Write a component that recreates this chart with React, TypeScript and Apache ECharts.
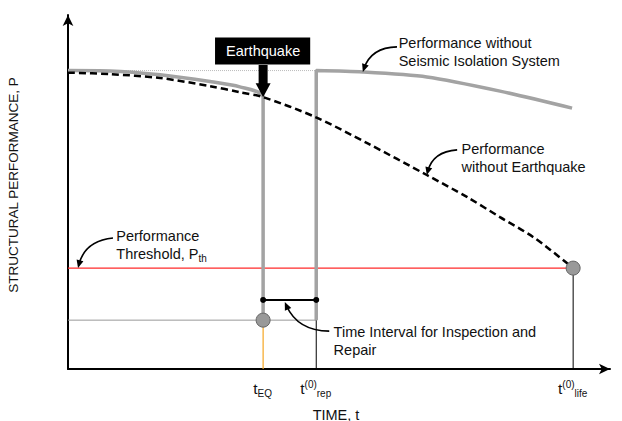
import React, { useEffect, useRef } from "react";
import * as echarts from "echarts";

const FONT = "'Liberation Sans', Arial, Helvetica, sans-serif";

// Key times and performance levels (time 0..100, performance 0..100)
const tEQ = 36.0;
const tRep = 45.8;
const tLife = 93.2;
const P0 = 84.3;
const Pth = 28.5;
const Pres = 13.8;
const Pint = 19.5;

// Performance without earthquake (dashed)
const noEqT = [0, 7.75, 17.0, 26.2, 31.7, 36.0, 45.6, 55.2, 66.2, 73.6, 79.7, 85.8, 92.1, 93.2];
const noEqP = [83.7, 83.3, 82.2, 79.9, 78.2, 76.8, 71.2, 63.8, 54.8, 48.6, 42.9, 37.3, 29.9, 28.5];

// Performance before the earthquake (gray)
const preEqT = [0, 7.75, 17.0, 26.2, 31.7, 36.0];
const preEqP = [84.3, 84.2, 83.1, 81.2, 79.7, 76.8];

// Performance after repair (gray)
const postRepT = [45.8, 54.4, 66.2, 79.7, 93.0];
const postRepP = [84.3, 83.9, 82.5, 78.5, 73.7];

// Tick labels on the time axis
const tickTimes = [tEQ, tRep, tLife];
const tickLabels = ["{t|t}{sub|EQ}", "{t|t}{sup|(0)}{sub|rep}", "{t|t}{sup|(0)}{sub|life}"];

// Annotation texts and anchor points
const noteTexts = [
  "Performance without\nSeismic Isolation System",
  "Performance\nwithout Earthquake",
  "Performance\nThreshold, P{sub|th}",
  "Time Interval for Inspection and\nRepair",
];
const noteT = [61.1, 72.7, 9.0, 49.1];
const noteP = [89.5, 59.6, 35.0, 7.9];

// Annotation arrows: start, end, curveness
const arrowStartT = [60.7, 71.8, 8.3, 48.2];
const arrowStartP = [91.0, 61.9, 37.0, 10.7];
const arrowEndT = [54.4, 66.2, 1.85, 40.0];
const arrowEndP = [83.9, 54.8, 28.5, 18.9];
const arrowCurv = [0.35, 0.36, 0.35, -0.32];

// Earthquake box and arrow
const eqBoxP = 89.7;
const eqArrowBaseP = 85.9;
const eqArrowTipP = 76.8;

const zip = (ts: number[], ps: number[]) => ts.map((t, i) => [t, ps[i]]);

const lineSeries = (data: number[][], lineStyle: any, z: number, extra: any = {}) => ({
  type: "line",
  data,
  symbol: "none",
  showSymbol: false,
  silent: true,
  clip: false,
  lineStyle,
  z,
  ...extra,
});

const GRAY = "#a3a3a3";
const INVISIBLE = { color: "rgba(0,0,0,0)", opacity: 1 };

function buildOption() {
  const arrows = arrowStartT.map((t, i) => [t, arrowStartP[i], arrowEndT[i], arrowEndP[i], arrowCurv[i]]);
  return {
    animation: false,
    grid: { left: 68, top: 15, right: 12, bottom: 52, outerBoundsMode: "none", containLabel: false },
    xAxis: {
      type: "value",
      min: 0,
      max: 100,
      name: "TIME, t",
      nameLocation: "middle",
      nameGap: 38,
      nameTextStyle: { fontFamily: FONT, fontSize: 14.5, color: "#111", padding: [0, 6, 0, 0] },
      axisLine: {
        show: true,
        symbol: ["none", "arrow"],
        symbolSize: [8, 11],
        lineStyle: { color: "#000", width: 2 },
      },
      axisTick: { show: false },
      axisLabel: { show: false },
      splitLine: { show: false },
    },
    yAxis: {
      type: "value",
      min: 0,
      max: 100,
      name: "STRUCTURAL PERFORMANCE, P",
      nameLocation: "middle",
      nameGap: 48,
      nameTextStyle: { fontFamily: FONT, fontSize: 13.5, color: "#111", padding: [0, 0, 0, 14] },
      axisLine: {
        show: true,
        symbol: ["none", "arrow"],
        symbolSize: [8, 11],
        lineStyle: { color: "#000", width: 2 },
      },
      axisTick: { show: false },
      axisLabel: { show: false },
      splitLine: { show: false },
    },
    series: [
      // top reference (dotted)
      lineSeries([[0, P0], [tRep, P0]], { color: "#bbbbbb", width: 1, type: [1, 1] }, 1),
      // residual reference line
      lineSeries([[0, Pres], [tRep, Pres]], { color: "#999999", width: 1 }, 1),
      // orange drop at tEQ
      lineSeries([[tEQ, 0], [tEQ, Pres]], { color: "#f5a623", width: 1.2 }, 1),
      // black drops at tRep and tLife
      lineSeries([[tRep, 0], [tRep, Pres]], { color: "#000", width: 1 }, 1),
      lineSeries([[tLife, 0], [tLife, Pth]], { color: "#000", width: 1 }, 1),
      // threshold
      lineSeries([[0, Pth], [tLife, Pth]], { color: "#ff2a2a", width: 1.2 }, 2),
      // with earthquake: pre-EQ and drop
      lineSeries([...zip(preEqT, preEqP), [tEQ, Pres]], { color: GRAY, width: 3.5, cap: "butt", join: "miter" }, 4, { smooth: 0.25 }),
      // after repair
      lineSeries([[tRep, Pres], ...zip(postRepT, postRepP)], { color: GRAY, width: 3.5, cap: "butt" }, 4, { smooth: 0.25 }),
      // without earthquake (dashed)
      lineSeries(zip(noEqT, noEqP), { color: "#000", width: 2.5, type: [7, 4] }, 5, { smooth: 0.3 }),
      // inspection & repair interval
      {
        type: "line",
        data: [[tEQ, Pint], [tRep, Pint]],
        symbol: "circle",
        symbolSize: 6,
        showSymbol: true,
        silent: true,
        clip: false,
        itemStyle: { color: "#000", opacity: 1 },
        lineStyle: { color: "#000", width: 2 },
        z: 6,
      },
      // circles
      {
        type: "scatter",
        data: [[tEQ, Pres], [tLife, Pth]],
        symbol: "circle",
        symbolSize: 14,
        silent: true,
        clip: false,
        itemStyle: { color: "#999999", borderColor: "#666666", borderWidth: 1, opacity: 1 },
        z: 7,
      },
      // annotation arrows
      {
        type: "custom",
        data: arrows,
        encode: { x: [0, 2], y: [1, 3] },
        silent: true,
        clip: false,
        z: 8,
        renderItem: (_params: any, api: any) => {
          const p0 = api.coord([api.value(0), api.value(1)]);
          const p1 = api.coord([api.value(2), api.value(3)]);
          const c = api.value(4);
          const dx = p1[0] - p0[0];
          const dy = p1[1] - p0[1];
          const len = Math.hypot(dx, dy);
          const nx = -dy / len;
          const ny = dx / len;
          const cp = [(p0[0] + p1[0]) / 2 + nx * c * len, (p0[1] + p1[1]) / 2 + ny * c * len];
          let tx = p1[0] - cp[0];
          let ty = p1[1] - cp[1];
          const tl = Math.hypot(tx, ty);
          tx /= tl;
          ty /= tl;
          const hl = 8;
          const hw = 3.5;
          const bx = p1[0] - tx * hl;
          const by = p1[1] - ty * hl;
          const mx = p1[0] - tx * hl * 0.5;
          const my = p1[1] - ty * hl * 0.5;
          return {
            type: "group",
            children: [
              {
                type: "bezierCurve",
                shape: { x1: p0[0], y1: p0[1], x2: mx, y2: my, cpx1: cp[0], cpy1: cp[1] },
                style: { stroke: "#000", lineWidth: 1.6, fill: null },
              },
              {
                type: "polygon",
                shape: {
                  points: [
                    [p1[0], p1[1]],
                    [bx - ty * hw, by + tx * hw],
                    [bx + ty * hw, by - tx * hw],
                  ],
                },
                style: { fill: "#000" },
              },
            ],
          };
        },
      },
      // earthquake arrow
      {
        type: "custom",
        data: [[tEQ, eqArrowBaseP, eqArrowTipP]],
        encode: { x: 0, y: [1, 2] },
        silent: true,
        clip: false,
        z: 8,
        renderItem: (_params: any, api: any) => {
          const b = api.coord([api.value(0), api.value(1)]);
          const tp = api.coord([api.value(0), api.value(2)]);
          const x = b[0];
          const sw = 4.5;
          const hw = 7.5;
          const hl = 14;
          const hy = tp[1] - hl;
          return {
            type: "polygon",
            shape: {
              points: [
                [x - sw, b[1]],
                [x + sw, b[1]],
                [x + sw, hy],
                [x + hw, hy],
                [x, tp[1]],
                [x - hw, hy],
                [x - sw, hy],
              ],
            },
            style: { fill: "#000" },
          };
        },
      },
      // earthquake box
      {
        type: "scatter",
        data: [[tEQ, eqBoxP]],
        symbolSize: 1,
        silent: true,
        clip: false,
        itemStyle: INVISIBLE,
        z: 9,
        label: {
          show: true,
          position: [0, 0],
          align: "center",
          verticalAlign: "middle",
          formatter: "Earthquake",
          color: "#fff",
          fontFamily: FONT,
          fontSize: 14.5,
          lineHeight: 15,
          backgroundColor: "#000",
          padding: [6, 10, 6, 11],
        },
      },
      // annotation texts
      {
        type: "scatter",
        data: noteT.map((t, i) => ({ value: [t, noteP[i]], label: { formatter: noteTexts[i] } })),
        symbolSize: 1,
        silent: true,
        clip: false,
        itemStyle: INVISIBLE,
        z: 9,
        label: {
          show: true,
          position: [0, 0],
          align: "left",
          verticalAlign: "middle",
          color: "#111",
          fontFamily: FONT,
          fontSize: 14.5,
          lineHeight: 18,
          rich: {
            sub: { fontFamily: FONT, fontSize: 10, color: "#111", padding: [9, 0, 0, 0], lineHeight: 18 },
          },
        },
      },
      // tick labels
      {
        type: "scatter",
        data: tickTimes.map((t, i) => ({ value: [t, 0], label: { formatter: tickLabels[i] } })),
        symbolSize: 1,
        silent: true,
        clip: false,
        itemStyle: INVISIBLE,
        z: 9,
        label: {
          show: true,
          position: [0, 0],
          align: "center",
          verticalAlign: "top",
          offset: [0, 9],
          color: "#111",
          fontFamily: FONT,
          rich: {
            t: { fontFamily: FONT, fontSize: 15.5, color: "#111", height: 22 },
            sup: { fontFamily: FONT, fontSize: 10, color: "#111", padding: [0, 0, 9, 0] },
            sub: { fontFamily: FONT, fontSize: 10, color: "#111", padding: [10, 0, 0, 0] },
          },
        },
      },
    ],
  };
}

export default function App() {
  const ref = useRef<HTMLDivElement>(null);
  useEffect(() => {
    const chart = echarts.init(ref.current!, null, { renderer: "svg" });
    chart.setOption(buildOption() as any);
    return () => chart.dispose();
  }, []);
  return (
    <div
      ref={ref}
      style={{ position: "fixed", left: 0, top: 0, width: 622, height: 421, background: "#fff" }}
    />
  );
}
